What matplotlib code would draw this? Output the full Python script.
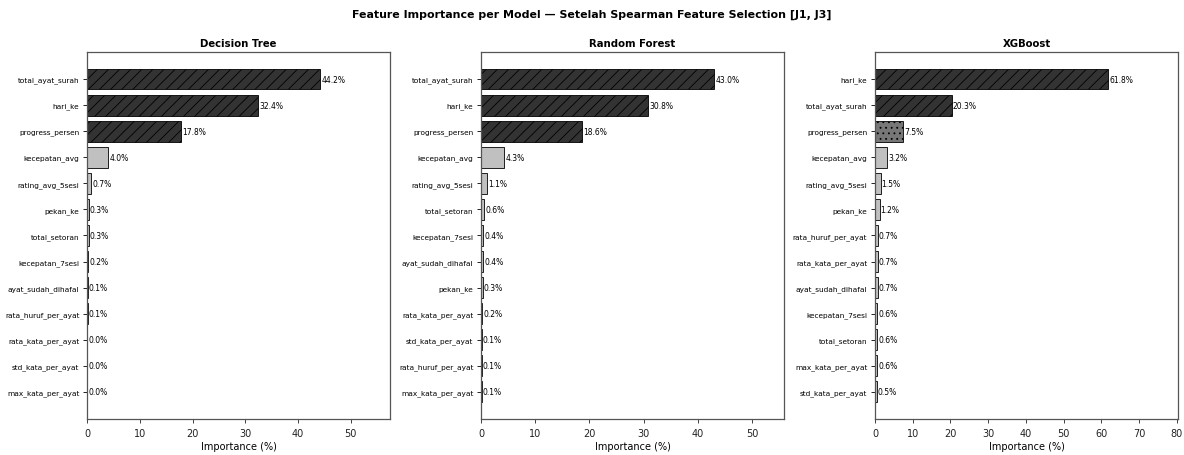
import matplotlib
matplotlib.use("Agg")
import matplotlib.pyplot as plt

plt.rcParams["hatch.linewidth"] = 0.6

fig_title = "Feature Importance per Model — Setelah Spearman Feature Selection [J1, J3]"
model_names = ["Decision Tree", "Random Forest", "XGBoost"]

dt_features = ["total_ayat_surah", "hari_ke", "progress_persen", "kecepatan_avg",
               "rating_avg_5sesi", "pekan_ke", "total_setoran", "kecepatan_7sesi",
               "ayat_sudah_dihafal", "rata_huruf_per_ayat", "rata_kata_per_ayat",
               "std_kata_per_ayat", "max_kata_per_ayat"]
dt_importance = [44.2, 32.4, 17.8, 4.0, 0.7, 0.3, 0.3, 0.2, 0.1, 0.1, 0.0, 0.0, 0.0]

rf_features = ["total_ayat_surah", "hari_ke", "progress_persen", "kecepatan_avg",
               "rating_avg_5sesi", "total_setoran", "kecepatan_7sesi",
               "ayat_sudah_dihafal", "pekan_ke", "rata_kata_per_ayat",
               "std_kata_per_ayat", "rata_huruf_per_ayat", "max_kata_per_ayat"]
rf_importance = [43.0, 30.8, 18.6, 4.3, 1.1, 0.6, 0.4, 0.4, 0.3, 0.2, 0.1, 0.1, 0.1]

xgb_features = ["hari_ke", "total_ayat_surah", "progress_persen", "kecepatan_avg",
                "rating_avg_5sesi", "pekan_ke", "rata_huruf_per_ayat",
                "rata_kata_per_ayat", "ayat_sudah_dihafal", "kecepatan_7sesi",
                "total_setoran", "max_kata_per_ayat", "std_kata_per_ayat"]
xgb_importance = [61.8, 20.3, 7.5, 3.2, 1.5, 1.2, 0.7, 0.7, 0.7, 0.6, 0.6, 0.6, 0.5]

panels = [(dt_features, dt_importance),
          (rf_features, rf_importance),
          (xgb_features, xgb_importance)]


def bar_style(v):
    if v >= 10:
        return "#333333", "///"
    if v >= 5:
        return "#777777", "..."
    return "#c0c0c0", None


fig, axes = plt.subplots(1, 3, figsize=(11.84, 4.56), dpi=100)
fig.subplots_adjust(left=0.0735, right=0.995, top=0.884, bottom=0.079, wspace=0.30)
fig.suptitle(fig_title, fontsize=7.9, fontweight="bold", y=0.978)

for ax, name, (feats, vals) in zip(axes, model_names, panels):
    ypos = list(range(len(feats)))[::-1]
    for y, v in zip(ypos, vals):
        color, hatch = bar_style(v)
        ax.barh(y, v, height=0.8, color=color, edgecolor="black",
                linewidth=0.6, hatch=hatch)
        ax.text(v + 0.25, y, f"{v:.1f}%", va="center", ha="left", fontsize=5.5)
    ax.set_yticks(ypos)
    ax.set_yticklabels(feats, fontsize=5.3)
    ax.set_xlim(0, max(vals) * 1.3)
    ax.tick_params(axis="x", labelsize=7, length=3, width=0.6, colors="#222222")
    ax.tick_params(axis="y", length=3, width=0.6, pad=2.5)
    ax.set_xlabel("Importance (%)", fontsize=7, labelpad=2)
    ax.set_title(name, fontsize=7.3, fontweight="bold", pad=4)
    for sp in ax.spines.values():
        sp.set_color("#555555")
        sp.set_linewidth(0.9)

fig.savefig("out.png", dpi=100)
